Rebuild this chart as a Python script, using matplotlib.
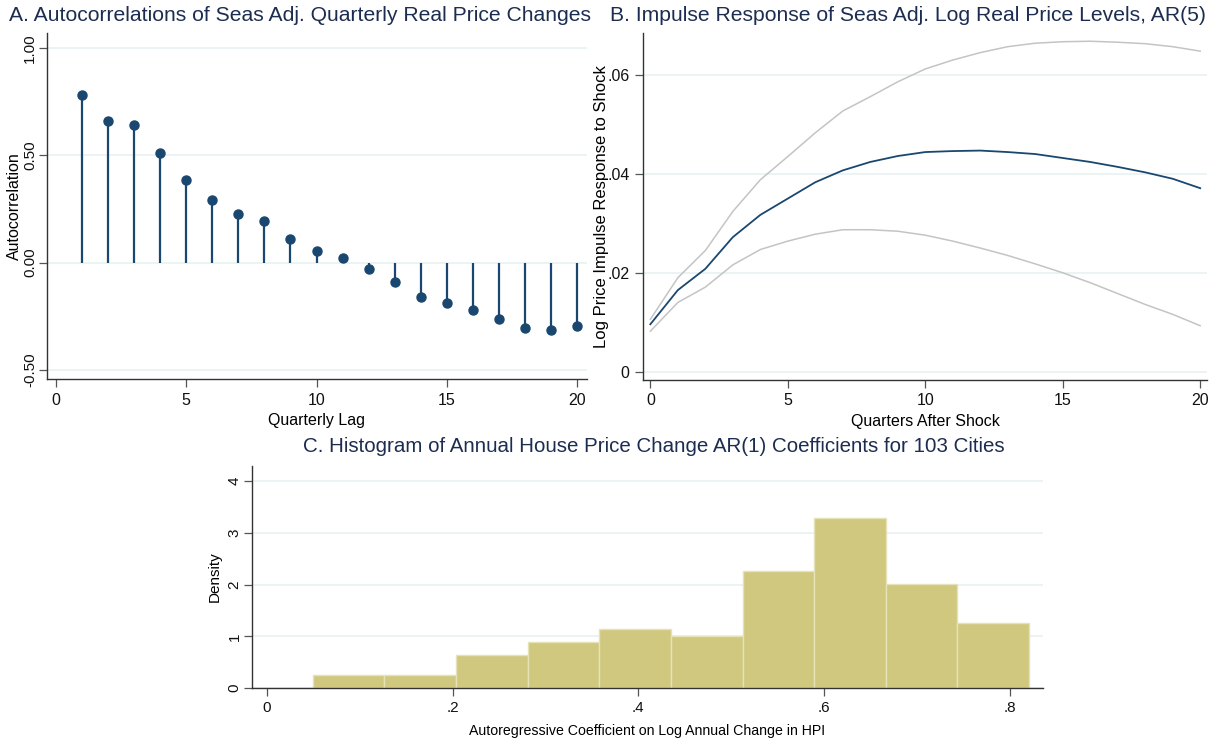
import matplotlib
matplotlib.use("Agg")
import matplotlib.pyplot as plt
import numpy as np

plt.rcParams["font.family"] = ["Liberation Sans", "DejaVu Sans"]

# Panel A: autocorrelations by quarterly lag
lags = list(range(1, 21))
autocorr = [0.78, 0.66, 0.64, 0.51, 0.385, 0.29, 0.225, 0.195, 0.11, 0.056,
            0.02, -0.03, -0.09, -0.16, -0.19, -0.22, -0.264, -0.305, -0.315, -0.296]

# Panel B: impulse response with confidence band
quarters = list(range(0, 21))
irf = [0.0096, 0.0165, 0.0208, 0.0272, 0.0317, 0.0350, 0.0383, 0.0407, 0.0424, 0.0436,
       0.0444, 0.0446, 0.0447, 0.0444, 0.0440, 0.0432, 0.0424, 0.0414, 0.0403, 0.0390, 0.0371]
irf_upper = [0.0106, 0.0190, 0.0245, 0.0324, 0.0388, 0.0435, 0.0483, 0.0527, 0.0556, 0.0586,
             0.0612, 0.0630, 0.0645, 0.0657, 0.0664, 0.0667, 0.0668, 0.0666, 0.0663, 0.0657, 0.0648]
irf_lower = [0.0082, 0.0140, 0.0171, 0.0216, 0.0247, 0.0264, 0.0278, 0.0287, 0.0287, 0.0284,
             0.0276, 0.0264, 0.0250, 0.0235, 0.0218, 0.0200, 0.0180, 0.0158, 0.0136, 0.0116, 0.0093]

# Panel C: histogram of AR(1) coefficients (density per bin)
bin_edges = [0.0495, 0.1266, 0.2037, 0.2808, 0.3579, 0.4350, 0.5121, 0.5892, 0.6663, 0.7434, 0.8205]
density = [0.25, 0.25, 0.63, 0.88, 1.14, 1.01, 2.27, 3.28, 2.02, 1.26]

NAVY = "#1a476f"
TITLE_C = "#1c2d50"
GRID = "#e8f1f2"
SPINE = "#333333"


def stata_axes(ax, labelsize=11.5):
    ax.spines["top"].set_visible(False)
    ax.spines["right"].set_visible(False)
    for s in ("left", "bottom"):
        ax.spines[s].set_color(SPINE)
        ax.spines[s].set_linewidth(1.0)
    ax.tick_params(direction="out", length=6, width=0.9, color="#555555",
                   labelsize=labelsize, labelcolor="#111111")
    ax.grid(axis="y", color=GRID, linewidth=1.2)
    ax.set_axisbelow(True)


fig = plt.figure(figsize=(12.22, 7.47), dpi=100)

# ---- A
axA = fig.add_axes([0.0382, 0.4922, 0.4424, 0.4640])
stata_axes(axA)
axA.tick_params(axis="y", pad=0.8, labelsize=11)
axA.vlines(lags, 0, autocorr, color=NAVY, linewidth=1.6)
axA.plot(lags, autocorr, "o", color=NAVY, markersize=6.5)
axA.set_xlim(-0.345, 20.38)
axA.set_ylim(-0.543, 1.07)
axA.set_xticks([0, 5, 10, 15, 20])
axA.set_yticks([-0.5, 0, 0.5, 1.0])
axA.set_yticklabels(["-0.50", "0.00", "0.50", "1.00"], rotation=90, va="center")
axA.set_xlabel("Quarterly Lag", fontsize=11.5)
axA.set_ylabel("Autocorrelation", fontsize=11.5)
axA.yaxis.set_label_coords(-0.045, 0.5)
fig.text(300 / 1222, 0.9786, "A. Autocorrelations of Seas Adj. Quarterly Real Price Changes",
         ha="center", va="center", fontsize=15.2, color=TITLE_C)

# ---- B
axB = fig.add_axes([0.526, 0.4913, 0.462, 0.4641])
stata_axes(axB)
axB.plot(quarters, irf_upper, color="#c4c4c4", linewidth=1.1)
axB.plot(quarters, irf_lower, color="#c4c4c4", linewidth=1.1)
axB.plot(quarters, irf, color=NAVY, linewidth=1.3)
axB.set_xlim(-0.276, 20.26)
axB.set_ylim(-0.00167, 0.0684)
axB.set_xticks([0, 5, 10, 15, 20])
axB.set_yticks([0, 0.02, 0.04, 0.06])
axB.set_yticklabels(["0", ".02", ".04", ".06"])
axB.set_xlabel("Quarters After Shock", fontsize=11.5)
axB.set_ylabel("Log Price Impulse Response to Shock", fontsize=12)
axB.yaxis.set_label_coords(-0.06, 0.5)
fig.text(908 / 1222, 0.9786, "B. Impulse Response of Seas Adj. Log Real Price Levels, AR(5)",
         ha="center", va="center", fontsize=15.2, color=TITLE_C)

# ---- C
axC = fig.add_axes([0.2062, 0.079, 0.6473, 0.297])
stata_axes(axC, labelsize=11)
axC.tick_params(axis="y", pad=1.5)
widths = np.diff(bin_edges)
axC.bar(bin_edges[:-1], density, width=widths, align="edge",
        color="#cfc87e", edgecolor="#e6e2b8", linewidth=1.0)
axC.set_xlim(-0.016, 0.8355)
axC.set_ylim(0, 4.29)
axC.set_xticks([0, 0.2, 0.4, 0.6, 0.8])
axC.set_xticklabels(["0", ".2", ".4", ".6", ".8"])
axC.set_yticks([0, 1, 2, 3, 4])
axC.set_yticklabels(["0", "1", "2", "3", "4"], rotation=90, va="center")
axC.set_xlabel("Autoregressive Coefficient on Log Annual Change in HPI", fontsize=10.2, labelpad=6)
axC.set_ylabel("Density", fontsize=11)
fig.text(654 / 1222, 1 - 447 / 747,
         "C. Histogram of Annual House Price Change AR(1) Coefficients for 103 Cities",
         ha="center", va="center", fontsize=14.8, color=TITLE_C)

fig.savefig("out.png", dpi=100)
